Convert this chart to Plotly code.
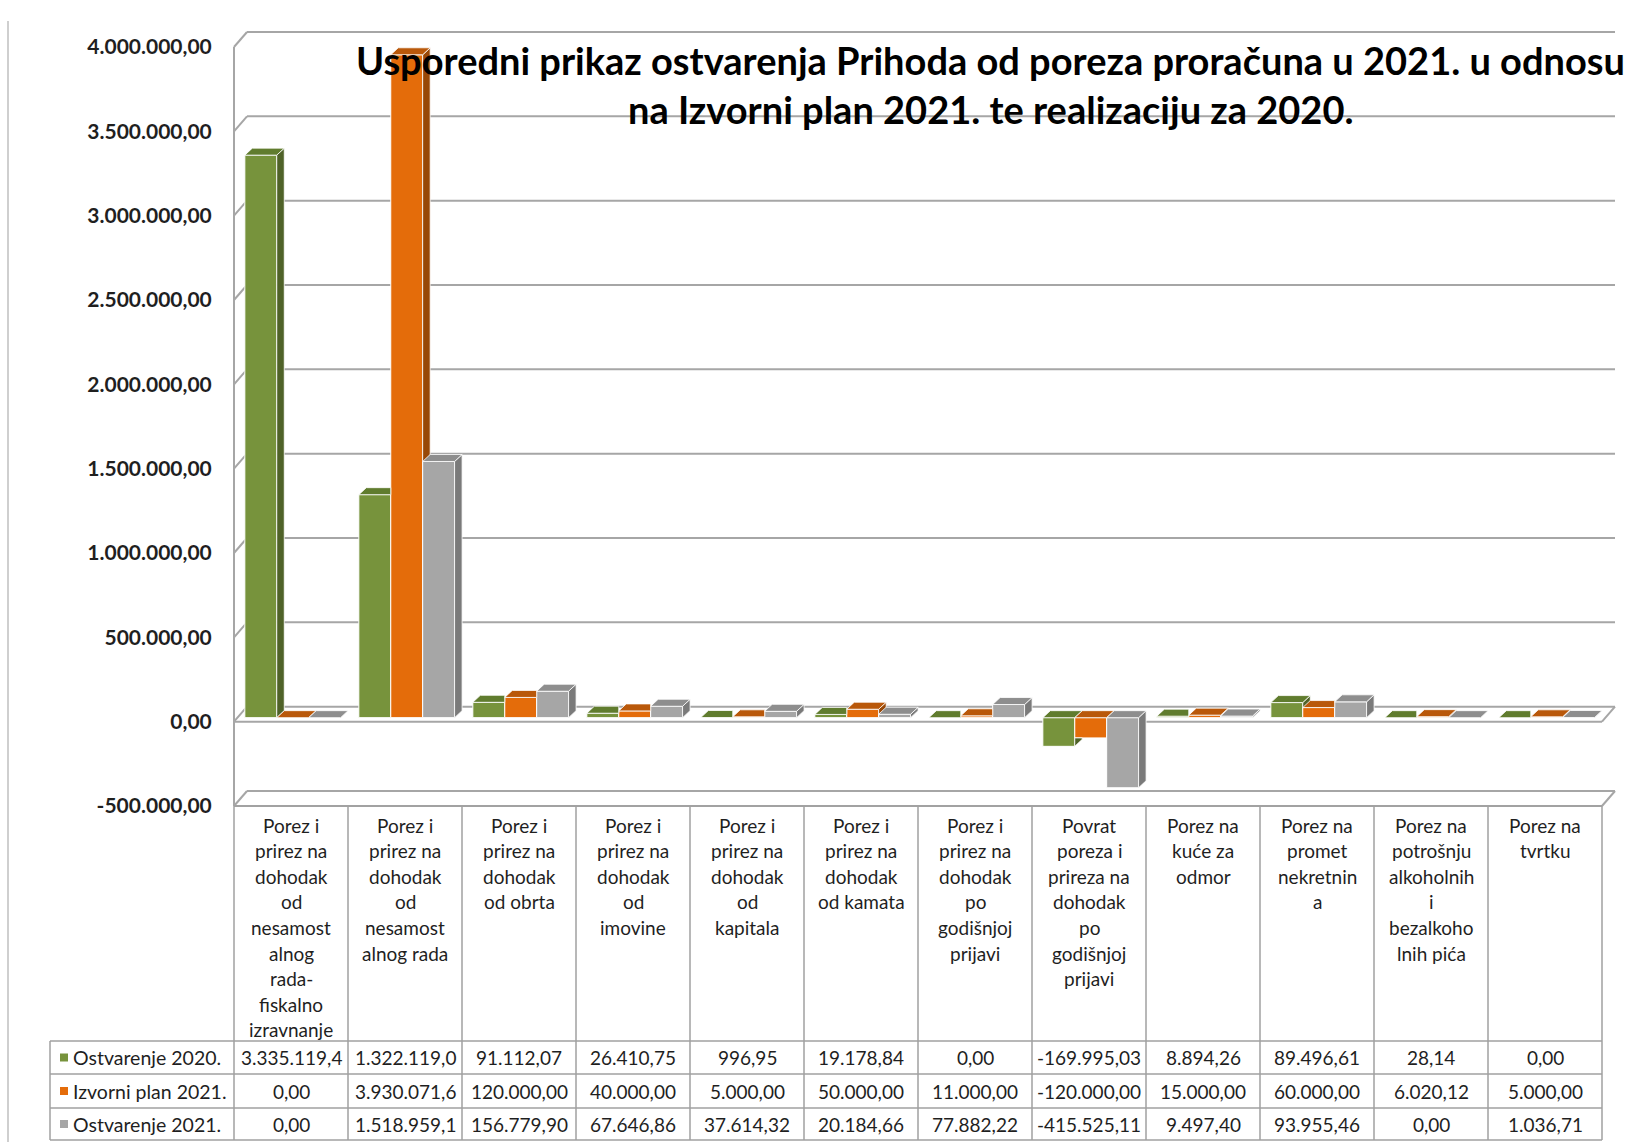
import plotly.graph_objects as go

# ---------------- data ----------------
categories = [
    "Porez i\nprirez na\ndohodak\nod\nnesamost\nalnog\nrada-\nfiskalno\nizravnanje",
    "Porez i\nprirez na\ndohodak\nod\nnesamost\nalnog rada",
    "Porez i\nprirez na\ndohodak\nod obrta",
    "Porez i\nprirez na\ndohodak\nod\nimovine",
    "Porez i\nprirez na\ndohodak\nod\nkapitala",
    "Porez i\nprirez na\ndohodak\nod kamata",
    "Porez i\nprirez na\ndohodak\npo\ngodišnjoj\nprijavi",
    "Povrat\nporeza i\nprireza na\ndohodak\npo\ngodišnjoj\nprijavi",
    "Porez na\nkuće za\nodmor",
    "Porez na\npromet\nnekretnin\na",
    "Porez na\npotrošnju\nalkoholnih\ni\nbezalkoho\nlnih pića",
    "Porez na\ntvrtku",
]
series_names = ["Ostvarenje 2020.", "Izvorni plan 2021.", "Ostvarenje 2021."]
ostvarenje_2020 = [3335119.40, 1322119.00, 91112.07, 26410.75, 996.95, 19178.84,
                   0.00, -169995.03, 8894.26, 89496.61, 28.14, 0.00]
izvorni_plan_2021 = [0.00, 3930071.60, 120000.00, 40000.00, 5000.00, 50000.00,
                     11000.00, -120000.00, 15000.00, 60000.00, 6020.12, 5000.00]
ostvarenje_2021 = [0.00, 1518959.10, 156779.90, 67646.86, 37614.32, 20184.66,
                   77882.22, -415525.11, 9497.40, 93955.46, 0.00, 1036.71]
y_ticks = [-500000, 0, 500000, 1000000, 1500000, 2000000, 2500000, 3000000, 3500000, 4000000]
title_lines = ["Usporedni prikaz ostvarenja Prihoda od poreza proračuna u 2021. u odnosu",
               "na Izvorni plan 2021. te realizaciju za 2020."]

series = [ostvarenje_2020, izvorni_plan_2021, ostvarenje_2021]

# ---------------- styling / geometry ----------------
FONT = "Lato"
colors = ["#77933C", "#E46C0A", "#A6A6A6"]
top_colors = ["#607C2E", "#B9580A", "#8E8E8E"]
side_colors = ["#4F6228", "#984807", "#7A7A7A"]
GRID = "#A6A6A6"

W, H = 1640, 1142
FRONT_L = 234          # px of left edge of first category
CAT_W = 114            # px per category
PL, PR, PT, PB = 226, 1624, 22, 810
Y_HI_PX, Y_LO_PX = 47, 806  # px of 4.000.000 and -500.000
upp = (4000000 - (-500000)) / (Y_LO_PX - Y_HI_PX)   # units per px
y_range = [-500000 - (PB - Y_LO_PX) * upp, 4000000 + (Y_HI_PX - PT) * upp]
x_range = [-0.5 - (FRONT_L - PL) / CAT_W, -0.5 + (PR - FRONT_L) / CAT_W]


def px2x(px):
    return (px - PL) / (PR - PL)


def py2y(py):
    return (PB - py) / (PB - PT)


def cat_px(xd):
    return FRONT_L + (xd + 0.5) * CAT_W


def fmt_full(v):
    return f"{v:,.2f}".replace(",", "X").replace(".", ",").replace("X", ".")


def fmt_cell(v):
    return fmt_full(v)[:11]   # cell width clips long numbers, as in the source table


BAR_W = 0.28
BAR_START = -0.405
BDX, BDY = 7.5 / CAT_W, 7 * upp      # bar depth
WDX, WDY = 13 / CAT_W, 15 * upp      # wall depth
BASE = 4 * upp                       # bars stand mid-depth on the floor

n = len(categories)
idx = list(range(n))
fig = go.Figure()

# front faces
for k, (name, vals) in enumerate(zip(series_names, series)):
    fig.add_trace(go.Bar(
        x=idx, y=vals, base=BASE, name=name, width=BAR_W, offset=BAR_START + k * BAR_W,
        marker=dict(color=colors[k], line=dict(color="white", width=1)),
        showlegend=False, hoverinfo="skip"))

# side and top faces (derived from values)
for k in range(3):
    sx, sy, tx, ty = [], [], [], []
    for i in idx:
        v = series[k][i]
        top, base = BASE + max(v, 0), BASE + min(v, 0)
        x0 = i + BAR_START + k * BAR_W
        x1 = x0 + BAR_W
        nxt = series[k + 1][i] if k < 2 else None
        if nxt is None:
            pieces = [("full", base, top)]
        else:
            nt, nb = BASE + max(nxt, 0), BASE + min(nxt, 0)
            pieces = []
            if top > nt:
                pieces.append(("upper", max(base, nt), top))
            if base < nb:
                pieces.append(("lower", base, min(nb, top)))
        for kind, lo, hi in pieces:
            if kind == "full":
                sx += [x1, x1, x1 + BDX, x1 + BDX, x1, None]
                sy += [lo, hi, hi + BDY, lo + BDY, lo, None]
            elif kind == "upper":
                sx += [x1, x1, x1 + BDX, x1 + BDX, x1, None]
                sy += [lo, hi, hi + BDY, max(lo, base + BDY), lo, None]
            else:
                ru = min(hi, top + BDY)
                sx += [x1, x1, x1 + BDX, x1 + BDX, x1, None]
                sy += [lo, hi, ru, lo + BDY, lo, None]
        if nxt is not None and BASE + max(nxt, 0) > top:
            tx += [x0, x1, x1, x0 + BDX, x0, None]
        else:
            tx += [x0, x1, x1 + BDX, x0 + BDX, x0, None]
        ty += [top, top, top + BDY, top + BDY, top, None]
    fig.add_trace(go.Scatter(x=sx, y=sy, mode="lines", fill="toself", fillcolor=side_colors[k],
                             line=dict(color="white", width=0.8), showlegend=False, hoverinfo="skip"))
    fig.add_trace(go.Scatter(x=tx, y=ty, mode="lines", fill="toself", fillcolor=top_colors[k],
                             line=dict(color="white", width=0.8), showlegend=False, hoverinfo="skip"))

shapes = []
# back wall gridlines and left side diagonals
for t in y_ticks:
    shapes.append(dict(type="line", xref="x", yref="y", x0=-0.5 + WDX, x1=n - 0.5 + WDX,
                       y0=t + WDY, y1=t + WDY, line=dict(color=GRID, width=2), layer="below"))
    shapes.append(dict(type="line", xref="x", yref="y", x0=-0.5, x1=-0.5 + WDX,
                       y0=t, y1=t + WDY, line=dict(color=GRID, width=2), layer="below"))
# front-left vertical edge
shapes.append(dict(type="line", xref="x", yref="y", x0=-0.5, x1=-0.5, y0=y_ticks[0], y1=y_ticks[-1],
                   line=dict(color=GRID, width=2), layer="below"))
# floor at zero and at bottom
for t in (0, y_ticks[0]):
    shapes.append(dict(type="line", xref="x", yref="y", x0=-0.5, x1=n - 0.5, y0=t, y1=t,
                       line=dict(color=GRID, width=2), layer="below"))
    shapes.append(dict(type="line", xref="x", yref="y", x0=n - 0.5, x1=n - 0.5 + WDX, y0=t, y1=t + WDY,
                       line=dict(color=GRID, width=2), layer="below"))

# ---------------- data table ----------------
TBL = "#A0A0A0"
row_px = [806, 1041, 1074, 1108, 1140]
LEG_L = 50
right_px = cat_px(n - 0.5)
left_px = cat_px(-0.5)
shapes.append(dict(type="line", xref="paper", yref="paper", x0=px2x(left_px), x1=px2x(right_px),
                   y0=py2y(row_px[0]), y1=py2y(row_px[0]), line=dict(color=TBL, width=1.5)))
for r in row_px[1:]:
    shapes.append(dict(type="line", xref="paper", yref="paper", x0=px2x(LEG_L), x1=px2x(right_px),
                       y0=py2y(r), y1=py2y(r), line=dict(color=TBL, width=1.5)))
for c in range(n + 1):
    xp = px2x(cat_px(c - 0.5))
    shapes.append(dict(type="line", xref="paper", yref="paper", x0=xp, x1=xp,
                       y0=py2y(row_px[0]), y1=py2y(row_px[-1]), line=dict(color=TBL, width=1.5)))
shapes.append(dict(type="line", xref="paper", yref="paper", x0=px2x(LEG_L), x1=px2x(LEG_L),
                   y0=py2y(row_px[1]), y1=py2y(row_px[-1]), line=dict(color=TBL, width=1.5)))
# outer chart border on the left
shapes.append(dict(type="line", xref="paper", yref="paper", x0=px2x(8), x1=px2x(8),
                   y0=py2y(21), y1=py2y(H), line=dict(color="#BFBFBF", width=1.5)))

annotations = []
TXT = "#1F1F1F"
# category labels
for i, lab in enumerate(categories):
    for j, line in enumerate(lab.split("\n")):
        annotations.append(dict(x=i, xref="x", y=py2y(825 + 25.6 * j), yref="paper",
                                text=line, showarrow=False, xanchor="center", yanchor="middle",
                                font=dict(family=FONT, size=19, color=TXT)))
# values and legend keys
for k, vals in enumerate(series):
    ymid = (row_px[k + 1] + row_px[k + 2]) / 2
    for i, v in enumerate(vals):
        annotations.append(dict(x=i, xref="x", y=py2y(ymid), yref="paper", text=fmt_cell(v),
                                showarrow=False, xanchor="center", yanchor="middle",
                                font=dict(family=FONT, size=19, color=TXT)))
    shapes.append(dict(type="rect", xref="paper", yref="paper", x0=px2x(60), x1=px2x(68),
                       y0=py2y(ymid + 4), y1=py2y(ymid - 4), fillcolor=colors[k], line=dict(width=0)))
    annotations.append(dict(x=px2x(71), xref="paper", y=py2y(ymid), yref="paper", text=series_names[k],
                            showarrow=False, xanchor="left", yanchor="middle",
                            font=dict(family=FONT, size=19.5, color=TXT)))

# title
for j, (tl, ypx) in enumerate(zip(title_lines, (60, 109))):
    annotations.append(dict(x=px2x(991), xref="paper", y=py2y(ypx), yref="paper", text=tl,
                            showarrow=False, xanchor="center", yanchor="middle",
                            font=dict(family=FONT, size=38, color="#000000", weight=700)))

fig.update_layout(
    width=W, height=H,
    margin=dict(l=PL, r=W - PR, t=PT, b=H - PB, pad=0),
    paper_bgcolor="white", plot_bgcolor="white",
    barmode="overlay", showlegend=False,
    xaxis=dict(range=x_range, visible=False, fixedrange=True),
    yaxis=dict(range=y_range, tickvals=y_ticks, ticktext=[fmt_full(t) for t in y_ticks],
               ticks="outside", ticklen=9, tickcolor="rgba(0,0,0,0)",
               showgrid=False, zeroline=False, showline=False,
               tickfont=dict(family=FONT, size=21, color="#1F1F1F", weight=700)),
    shapes=shapes, annotations=annotations,
)

fig.write_html("out.html", config={"displayModeBar": False},
               post_script="document.body.style.margin='0';")
